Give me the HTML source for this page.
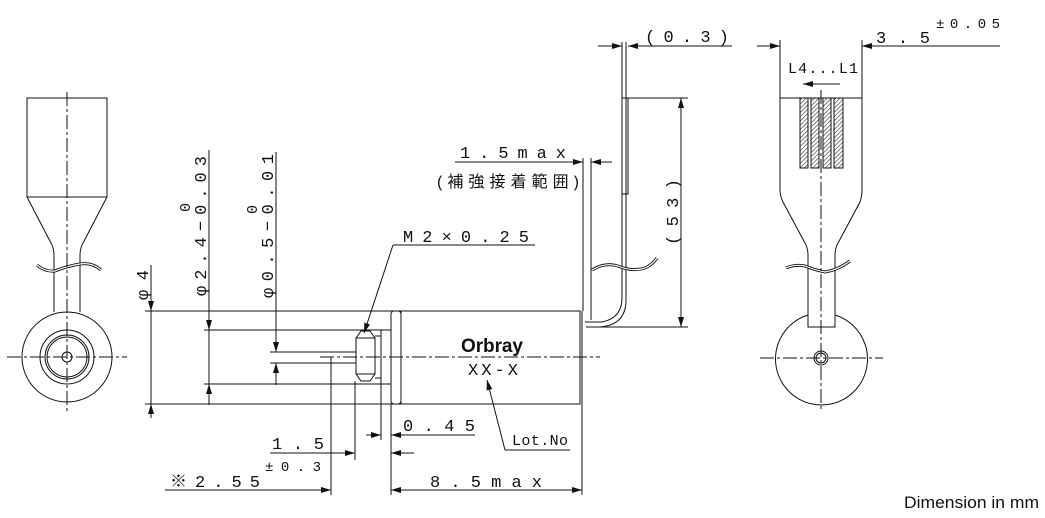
<!DOCTYPE html>
<html><head><meta charset="utf-8"><style>
html,body{margin:0;padding:0;background:#fff;}
svg{display:block;}
text{font-family:"Liberation Mono","Noto Sans CJK JP",monospace;fill:#111;font-size:17px;}
</style></head><body>
<svg width="1045" height="518" viewBox="0 0 1045 518" xmlns="http://www.w3.org/2000/svg">
<defs>
<marker id="a" viewBox="0 0 10 6" refX="10" refY="3" markerWidth="11" markerHeight="6" orient="auto" markerUnits="userSpaceOnUse"><path d="M0,0 L10,3 L0,6z" fill="#111"/></marker>
<pattern id="h" width="3" height="3" patternUnits="userSpaceOnUse" patternTransform="rotate(45)"><rect width="3" height="3" fill="#fff"/><line x1="0" y1="0" x2="0" y2="3" stroke="#555" stroke-width="1.5"/></pattern>
</defs>
<g stroke="#111" stroke-width="1" fill="none">
<rect x="27" y="98" width="80" height="99"/>
<path d="M27,197 L52,245 Q54,250 54,255 L54,312"/>
<path d="M107,197 L82,245 Q80,250 80,255 L80,312"/>
<path d="M37,265 Q45,272 55,271 Q67,266 80,264 Q92,262 101,270" stroke-width="3"/>
<path d="M37,265 Q45,272 55,271 Q67,266 80,264 Q92,262 101,270" stroke="#fff" stroke-width="1.2"/>
<circle cx="67" cy="357" r="45"/>
<circle cx="67" cy="357" r="27"/>
<circle cx="67" cy="357" r="22"/>
<circle cx="67" cy="357" r="20"/>
<circle cx="67" cy="357" r="5"/>
<line x1="67" y1="92" x2="67" y2="412" stroke-dasharray="14,3,3,3"/>
<line x1="7" y1="357" x2="127" y2="357" stroke-dasharray="14,3,3,3"/>

<line x1="145" y1="311" x2="401" y2="311"/>
<line x1="145" y1="404" x2="401" y2="404"/>
<line x1="204" y1="330" x2="381" y2="330"/>
<line x1="204" y1="384" x2="381" y2="384"/>
<line x1="270" y1="352" x2="356" y2="352"/>
<line x1="270" y1="363" x2="356" y2="363"/>
<line x1="151" y1="265" x2="151" y2="311" marker-end="url(#a)"/>
<line x1="151" y1="311" x2="151" y2="404"/>
<line x1="151" y1="418" x2="151" y2="404" marker-end="url(#a)"/>
<line x1="209" y1="150" x2="209" y2="330" marker-end="url(#a)"/>
<line x1="209" y1="330" x2="209" y2="404"/>
<line x1="209" y1="405" x2="209" y2="384" marker-end="url(#a)"/>
<line x1="276" y1="152" x2="276" y2="352" marker-end="url(#a)"/>
<line x1="276" y1="385" x2="276" y2="363" marker-end="url(#a)"/>

<rect x="401" y="311" width="179" height="93"/>
<line x1="582" y1="311" x2="582" y2="404"/>
<rect x="391" y="311" width="10" height="93" rx="3"/>
<rect x="381" y="330" width="10" height="54"/>
<line x1="375" y1="336" x2="381" y2="336"/>
<line x1="375" y1="378" x2="381" y2="378"/>
<path d="M356,338 L361,331 L370,331 L375,338 L375,374 L370,381 L361,381 L356,374 Z"/>
<line x1="356" y1="338" x2="375" y2="338"/><line x1="356" y1="374" x2="375" y2="374"/>
<line x1="320" y1="357" x2="600" y2="357" stroke-dasharray="14,3,3,3"/>

<line x1="393" y1="245" x2="535" y2="245"/>
<line x1="393" y1="245" x2="364" y2="333" marker-end="url(#a)"/>
<line x1="505" y1="450" x2="570" y2="450"/>
<line x1="505" y1="450" x2="487" y2="380" marker-end="url(#a)"/>

<line x1="331" y1="357" x2="331" y2="495"/>
<line x1="355" y1="381" x2="355" y2="460"/>
<line x1="381" y1="384" x2="381" y2="440"/>
<line x1="391" y1="404" x2="391" y2="495"/>
<line x1="582" y1="404" x2="582" y2="495"/>
<line x1="366" y1="435" x2="381" y2="435" marker-end="url(#a)"/>
<line x1="475" y1="435" x2="391" y2="435" marker-end="url(#a)"/>
<line x1="270" y1="453" x2="355" y2="453" marker-end="url(#a)"/>
<line x1="414" y1="453" x2="391" y2="453" marker-end="url(#a)"/>
<line x1="165" y1="490" x2="331" y2="490" marker-end="url(#a)"/>
<line x1="480" y1="490" x2="391" y2="490" marker-end="url(#a)"/>
<line x1="480" y1="490" x2="582" y2="490" marker-end="url(#a)"/>

<line x1="583" y1="158" x2="583" y2="311"/>
<line x1="591" y1="158" x2="591" y2="320"/>
<path d="M622,42 L622,298 Q622,318 602,322 L585,322"/>
<path d="M626,42 L626,300 Q626,325 600,327 L586,327"/>
<rect x="622" y="98" width="6" height="96"/>
<path d="M592,270 Q605,262 618,266 Q632,272 645,268 Q652,265 657,258" stroke-width="3"/>
<path d="M592,270 Q605,262 618,266 Q632,272 645,268 Q652,265 657,258" stroke="#fff" stroke-width="1.2"/>
<line x1="586" y1="327" x2="688" y2="327"/>
<line x1="628" y1="98" x2="688" y2="98"/>
<line x1="681" y1="200" x2="681" y2="98" marker-end="url(#a)"/>
<line x1="681" y1="200" x2="681" y2="327" marker-end="url(#a)"/>
<line x1="598" y1="46" x2="622" y2="46" marker-end="url(#a)"/>
<line x1="732" y1="46" x2="628" y2="46" marker-end="url(#a)"/>
<line x1="455" y1="162" x2="583" y2="162" marker-end="url(#a)"/>
<line x1="612" y1="162" x2="591" y2="162" marker-end="url(#a)"/>

<line x1="780" y1="40" x2="780" y2="190"/>
<line x1="862" y1="40" x2="862" y2="190"/>
<line x1="780" y1="98" x2="862" y2="98"/>
<line x1="757" y1="46" x2="780" y2="46" marker-end="url(#a)"/>
<line x1="1000" y1="46" x2="862" y2="46" marker-end="url(#a)"/>
<line x1="840" y1="84" x2="803" y2="84" marker-end="url(#a)"/>
<rect x="800" y="98" width="8" height="70" fill="url(#h)"/>
<rect x="811" y="98" width="8" height="70" fill="url(#h)"/>
<rect x="823" y="98" width="8" height="70" fill="url(#h)"/>
<rect x="834" y="98" width="9" height="70" fill="url(#h)"/>
<path d="M780,190 Q780,196 783,202 L806,245 Q808,250 808,255 L808,327 L835,327 L835,255 Q835,250 837,245 L860,202 Q862,196 862,190"/>
<path d="M786,268 Q795,264 805,266 Q815,270 825,272 Q838,270 850,261" stroke-width="3"/>
<path d="M786,268 Q795,264 805,266 Q815,270 825,272 Q838,270 850,261" stroke="#fff" stroke-width="1.2"/>
<path d="M808,315 A46,46 0 1 0 835,315"/>
<circle cx="821" cy="358" r="7"/>
<circle cx="821" cy="358" r="5"/>
<line x1="821" y1="90" x2="821" y2="412" stroke-dasharray="14,3,3,3"/>
<line x1="760" y1="358" x2="883" y2="358" stroke-dasharray="14,3,3,3"/>
</g>

<text x="403" y="242" textLength="126">M2×0.25</text>
<text x="461" y="352" style="font-family:'Liberation Sans',sans-serif;font-weight:bold;font-size:19px;letter-spacing:-1px" textLength="61">Orbray</text>
<text x="468" y="375" textLength="50">XX-X</text>
<text x="512" y="445" style="font-size:15px" textLength="56">Lot.No</text>
<text x="403" y="431" textLength="72">0.45</text>
<text x="272" y="449" textLength="52">1.5</text>
<text x="265" y="471" style="font-size:14px" textLength="56">±0.3</text>
<text x="170" y="487" textLength="90">※2.55</text>
<text x="430" y="487" textLength="112">8.5max</text>
<text x="460" y="158" textLength="106">1.5max</text>
<text x="437" y="187" style="font-family:'Liberation Sans','Noto Sans CJK JP',sans-serif;font-size:16px" textLength="142">(補強接着範囲)</text>
<text x="645" y="42" textLength="84">(0.3)</text>
<text x="876" y="43" textLength="54">3.5</text>
<text x="936" y="28" style="font-size:14px" textLength="64">±0.05</text>
<text x="788" y="73" style="font-size:15px" textLength="70">L4...L1</text>
<text x="904" y="508" style="font-family:'Liberation Sans',sans-serif;font-size:17px" textLength="135" lengthAdjust="spacingAndGlyphs">Dimension in mm</text>
<text transform="translate(148,300) rotate(-90)" textLength="30">φ4</text>
<text transform="translate(206,296) rotate(-90)" textLength="140">φ2.4−0.03</text>
<text transform="translate(190,212) rotate(-90)" style="font-size:15px">0</text>
<text transform="translate(273,298) rotate(-90)" textLength="144">φ0.5−0.01</text>
<text transform="translate(257,214) rotate(-90)" style="font-size:15px">0</text>
<text transform="translate(678,245) rotate(-90)" textLength="66">(53)</text>
</svg>
</body></html>
